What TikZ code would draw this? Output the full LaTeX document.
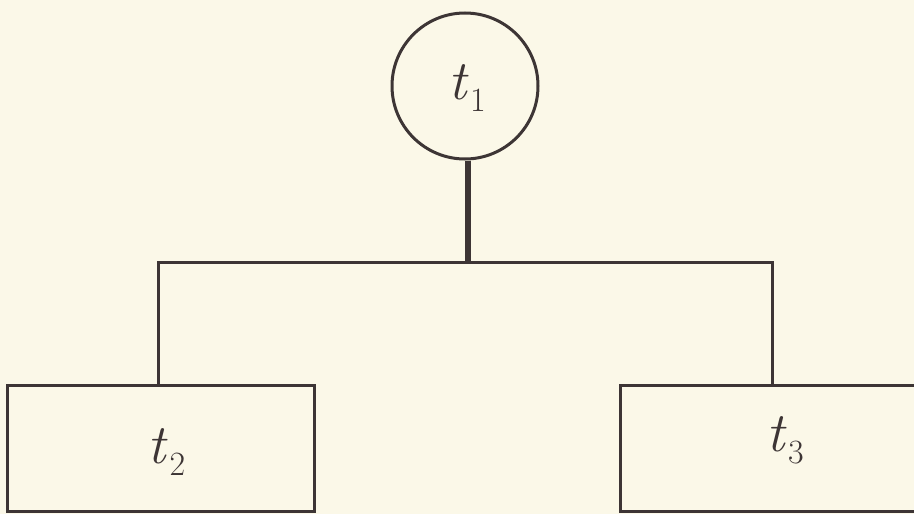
\documentclass[tikz,border=0pt]{standalone}
\usepackage{tikz}
\definecolor{paper}{HTML}{FBF8E8}
\definecolor{ink}{HTML}{3D3535}
\newcommand{\tsk}[1]{\textit{t}\kern0.02em\raisebox{-0.22em}{\fontsize{34}{36}\selectfont #1}}
\begin{document}
\begin{tikzpicture}[x=1pt,y=-1pt,
  thin line/.style={draw=ink,line width=3pt},
  thick line/.style={draw=ink,line width=5.5pt},
  lbl/.style={text=ink,font=\fontsize{56}{60}\selectfont},
  taskcircle/.style={circle,thin line,minimum size=146pt,inner sep=0pt},
  taskbox/.style={rectangle,thin line,inner sep=0pt}]
\fill[paper] (0,0) rectangle (914,514);
\useasboundingbox (0,0) rectangle (914,514);
\clip (0,0) rectangle (914,514);
\node[taskcircle,label={[lbl,xshift=2pt,yshift=-2pt]center:\tsk{1}}] (t1) at (465,86) {};
\node[taskbox,minimum width=307pt,minimum height=126pt,
  label={[lbl,xshift=6pt,yshift=-4pt]center:\tsk{2}}] (b2) at (160.5,448) {};
\node[taskbox,minimum width=310pt,minimum height=126pt,
  label={[lbl,xshift=10pt,yshift=8pt]center:\tsk{3}}] (b3) at (775,448) {};
\coordinate (j) at (468,262);
\coordinate (jl) at (158,262);
\coordinate (jr) at (772,262);
\draw[thick line] (j |- t1.south) -- (j);
\draw[thin line,line join=miter] (jl |- b2.north) -- (jl) -- (jr) -- (jr |- b3.north);
\end{tikzpicture}
\end{document}
